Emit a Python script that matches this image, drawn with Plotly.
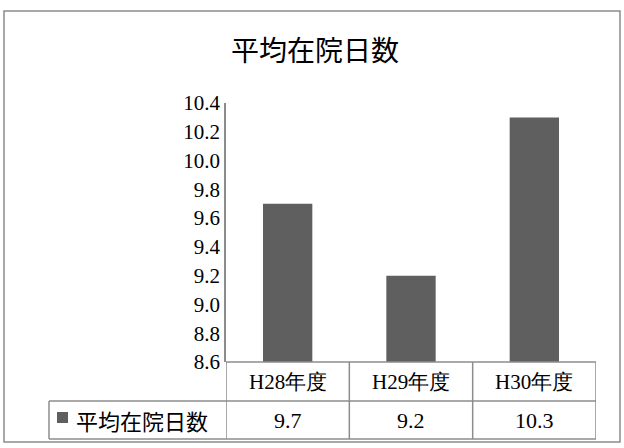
import plotly.graph_objects as go

categories = ["H28年度", "H29年度", "H30年度"]
values = [9.7, 9.2, 10.3]
value_labels = ["9.7", "9.2", "10.3"]
series_name = "平均在院日数"
title_text = "平均在院日数"
y_ticks = [8.6, 8.8, 9.0, 9.2, 9.4, 9.6, 9.8, 10.0, 10.2, 10.4]
y_min, y_max = 8.6, 10.4

W, H = 624, 448
L, R, T, B = 226, 28, 103, 86
pw, ph = W - L - R, H - T - B

def px_to_py(py):
    return (H - B - py) / ph

def px_to_px(px):
    return (px - L) / pw

FONT = "Liberation Serif"
LINE = "#8c8c8c"
BAR = "#5f5f5f"

xs = list(range(len(categories)))
fig = go.Figure()
fig.add_trace(go.Bar(x=xs, y=[v - y_min for v in values], base=y_min, width=0.4,
                     marker=dict(color=BAR, line=dict(width=0)),
                     name=series_name, showlegend=False,
                     hovertext=value_labels))

row1 = px_to_py(401)
row2 = px_to_py(439)
leg_left = px_to_px(49)

shapes = []
# outer border
shapes.append(dict(type="rect", xref="paper", yref="paper", x0=px_to_px(4), x1=px_to_px(620),
                   y0=px_to_py(442), y1=px_to_py(11), line=dict(color="#8c8c8c", width=1.5)))
# table horizontal lines
shapes.append(dict(type="line", xref="x", yref="paper", x0=-0.5, x1=len(categories) - 0.5, y0=0, y1=0,
                   line=dict(color=LINE, width=1.5)))
for yy in (row1, row2):
    shapes.append(dict(type="line", xref="paper", yref="paper", x0=leg_left, x1=1, y0=yy, y1=yy,
                       line=dict(color=LINE, width=1.5)))
# vertical lines
for i in range(len(categories) + 1):
    shapes.append(dict(type="line", xref="x", yref="paper", x0=i - 0.5, x1=i - 0.5, y0=0, y1=row2,
                       line=dict(color=LINE, width=1.5)))
shapes.append(dict(type="line", xref="paper", yref="paper", x0=leg_left, x1=leg_left, y0=row1, y1=row2,
                   line=dict(color=LINE, width=1.5)))
# legend key
shapes.append(dict(type="rect", xref="paper", yref="paper", x0=px_to_px(57), x1=px_to_px(68),
                   y0=px_to_py(423), y1=px_to_py(412), fillcolor=BAR, line=dict(width=0)))

annotations = []
for i, c in enumerate(categories):
    annotations.append(dict(x=i, y=(0 + row1) / 2, xref="x", yref="paper", text=c, showarrow=False,
                            xanchor="center", yanchor="middle",
                            font=dict(family=FONT, size=21, color="#000")))
    annotations.append(dict(x=i, y=(row1 + row2) / 2, xref="x", yref="paper", text=value_labels[i],
                            xanchor="center", yanchor="middle",
                            showarrow=False, font=dict(family=FONT, size=22, color="#000")))
annotations.append(dict(x=px_to_px(74), y=(row1 + row2) / 2, xref="paper", yref="paper", text=series_name,
                        xanchor="left", yanchor="middle", showarrow=False,
                        font=dict(family="Noto Sans CJK JP", size=22, color="#000")))

fig.update_layout(
    width=W, height=H,
    margin=dict(l=L, r=R, t=T, b=B),
    paper_bgcolor="white", plot_bgcolor="white",
    title=dict(text=title_text, x=315 / W, xref="container", xanchor="center", y=1 - 51 / H,
               yref="container", yanchor="middle",
               font=dict(family="Noto Sans CJK JP", size=28, color="#000")),
    xaxis=dict(range=[-0.5, len(categories) - 0.5], showticklabels=False, showgrid=False, zeroline=False,
               showline=False, ticks=""),
    yaxis=dict(range=[y_min, y_max], tickvals=y_ticks, ticktext=[f"{v:.1f}" for v in y_ticks],
               showgrid=False, zeroline=False, showline=True, linecolor=LINE, linewidth=1.5,
               ticks="", ticklabelstandoff=0, tickfont=dict(family=FONT, size=21, color="#000")),
    shapes=shapes, annotations=annotations,
)
fig.write_html("out.html", config={"displayModeBar": False},
               post_script="document.body.style.margin='0';document.body.style.padding='0';")
